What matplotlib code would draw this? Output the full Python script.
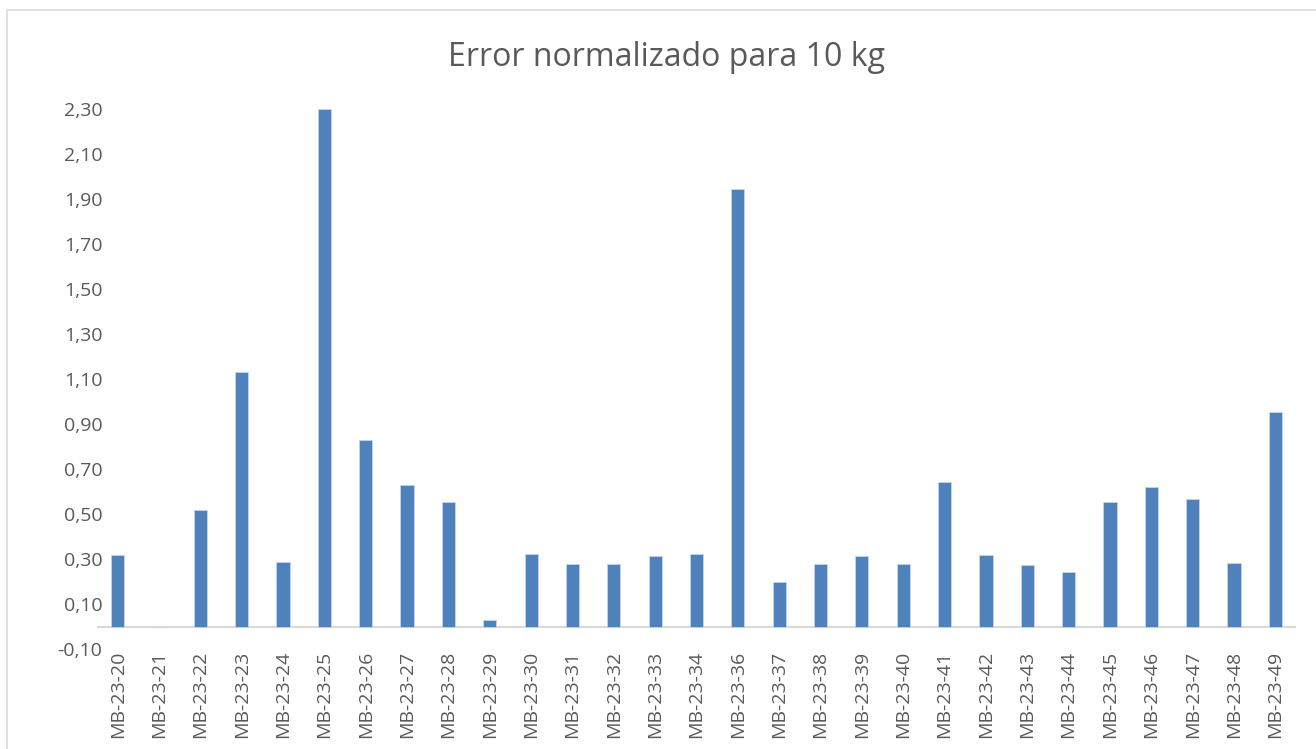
import matplotlib.pyplot as plt
from matplotlib.patches import Rectangle
from matplotlib.ticker import FuncFormatter

# ensayos (no hay MB-23-35)
muestras = ['MB-23-%d' % n for n in list(range(20, 35)) + list(range(36, 50))]
error_norm = [0.32, 0.00, 0.52, 1.13, 0.287, 2.30, 0.831, 0.631, 0.553,
              0.027, 0.321, 0.276, 0.276, 0.314, 0.321, 1.944, 0.199, 0.276,
              0.314, 0.278, 0.643, 0.316, 0.274, 0.242, 0.555, 0.62, 0.567,
              0.281, 0.952]
y_ticks = [-0.1 + 0.2 * i for i in range(13)]

plt.rcParams['font.family'] = ['Open Sans', 'DejaVu Sans']
gris = '#595959'

fig = plt.figure(figsize=(13.16, 7.49), dpi=100)
ax = fig.add_axes([97 / 1316, 1 - 649 / 749, 1199 / 1316, 540 / 749])

x = range(len(muestras))
ax.bar(x, error_norm, width=0.32, color='#4F81BD', edgecolor='#c5d5ea', linewidth=0.6)
ax.axhline(0, color='#d9d9d9', linewidth=1.5, zorder=0)

ax.set_xlim(-0.5, len(muestras) - 0.5)
ax.set_ylim(-0.1, 2.3)
ax.set_yticks(y_ticks)
ax.yaxis.set_major_formatter(FuncFormatter(lambda v, p: ('%.2f' % v).replace('.', ',')))
ax.set_xticks(list(x))
ax.set_xticklabels(muestras, rotation=90)
ax.tick_params(axis='both', length=0, labelsize=14, colors=gris)
ax.tick_params(axis='x', pad=1)
ax.tick_params(axis='y', pad=-4)
for s in ax.spines.values():
    s.set_visible(False)

fig.text(667 / 1316, 1 - 57 / 749, 'Error normalizado para 10 kg', ha='center', va='center',
         fontsize=23, color=gris)

# borde del área del gráfico
fig.patches.append(Rectangle((7 / 1316, -0.05), 1.1, 1 - 10 / 749 + 0.05,
                             transform=fig.transFigure, fill=False,
                             edgecolor='#d9d9d9', linewidth=1.2))

fig.savefig('out.png', dpi=100)
